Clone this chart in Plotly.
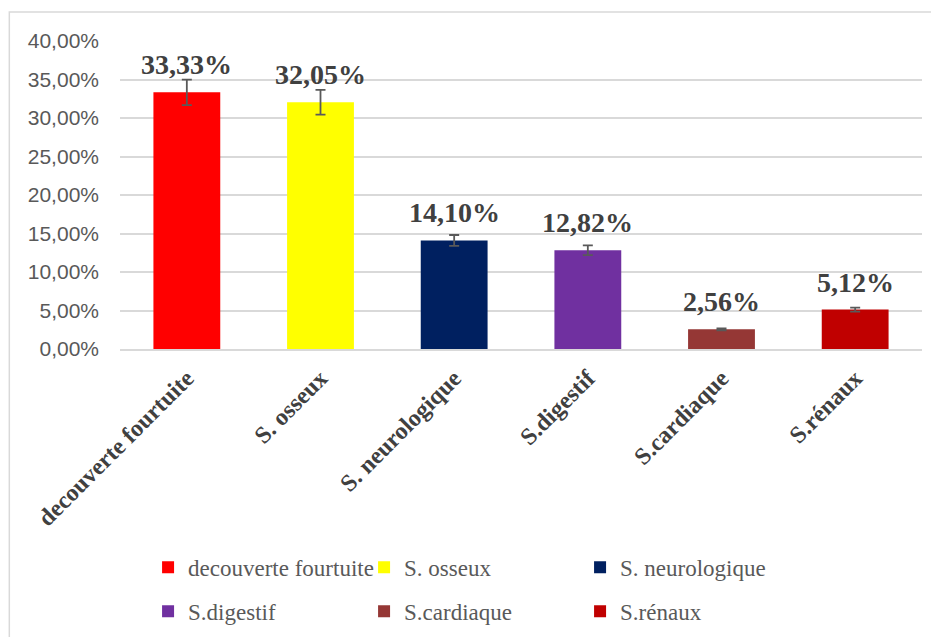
import plotly.graph_objects as go

categories = ["decouverte fourtuite", "S. osseux", "S. neurologique",
              "S.digestif", "S.cardiaque", "S.rénaux"]
values = [33.33, 32.05, 14.10, 12.82, 2.56, 5.12]
labels = ["33,33%", "32,05%", "14,10%", "12,82%", "2,56%", "5,12%"]
colors = ["#FF0000", "#FFFF00", "#002060", "#7030A0", "#953735", "#C00000"]
tick_vals = [0, 5, 10, 15, 20, 25, 30, 35, 40]
tick_text = ["0,00%", "5,00%", "10,00%", "15,00%", "20,00%",
             "25,00%", "30,00%", "35,00%", "40,00%"]

fig = go.Figure()
for i, cat in enumerate(categories):
    fig.add_trace(go.Bar(
        x=[cat], y=[values[i]], name=cat,
        marker=dict(color=colors[i], line=dict(width=0)),
        width=0.5,
        error_y=dict(type="percent", value=5, color="#595959",
                     thickness=1.8, width=5),
        legend="legend" if i < 3 else "legend2",
        hoverinfo="skip",
    ))
    # data label above each bar
    fig.add_annotation(
        x=cat, y=values[i], text="<b>" + labels[i] + "</b>", showarrow=False,
        yanchor="bottom", yshift=10,
        font=dict(family="Liberation Serif", size=28, color="#404040"),
        xref="x", yref="y",
    )

legend_font = dict(family="Liberation Serif", size=23, color="#595959")
fig.update_layout(
    width=931, height=629,
    margin=dict(l=112, r=17, t=33, b=288, autoexpand=False),
    paper_bgcolor="white", plot_bgcolor="white",
    barmode="overlay",
    showlegend=True,
    legend=dict(orientation="h", x=0.035, xanchor="left",
                y=0.145, yref="container", yanchor="top",
                font=legend_font, entrywidth=171, entrywidthmode="pixels",
                itemwidth=30, bgcolor="rgba(0,0,0,0)"),
    legend2=dict(orientation="h", x=0.035, xanchor="left",
                 y=0.075, yref="container", yanchor="top",
                 font=legend_font, entrywidth=171, entrywidthmode="pixels",
                 itemwidth=30, bgcolor="rgba(0,0,0,0)"),
    xaxis=dict(
        tickangle=-45,
        tickfont=dict(family="Liberation Serif", size=24, color="#404040"),
        showline=True, linecolor="#d9d9d9", linewidth=1.5,
        showgrid=False, ticks="", ticklabelstandoff=4,
        tickprefix="<b>", ticksuffix="</b>",
        categoryorder="array", categoryarray=categories,
    ),
    yaxis=dict(
        range=[0, 40], tickvals=tick_vals, ticktext=tick_text,
        tickfont=dict(family="Liberation Sans", size=21, color="#595959"),
        showgrid=True, gridcolor="#d9d9d9", gridwidth=1.5,
        zeroline=False, showline=False, ticks="", ticklabelstandoff=20,
    ),
)

# outer chart border (only top and left edges are visible in the crop)
fig.add_shape(type="rect", xref="paper", yref="paper",
              x0=-0.138, x1=1.1, y0=-1.2, y1=1.094,
              line=dict(color="#d9d9d9", width=1.5), fillcolor="rgba(0,0,0,0)",
              layer="below")

fig.write_html("out.html")
